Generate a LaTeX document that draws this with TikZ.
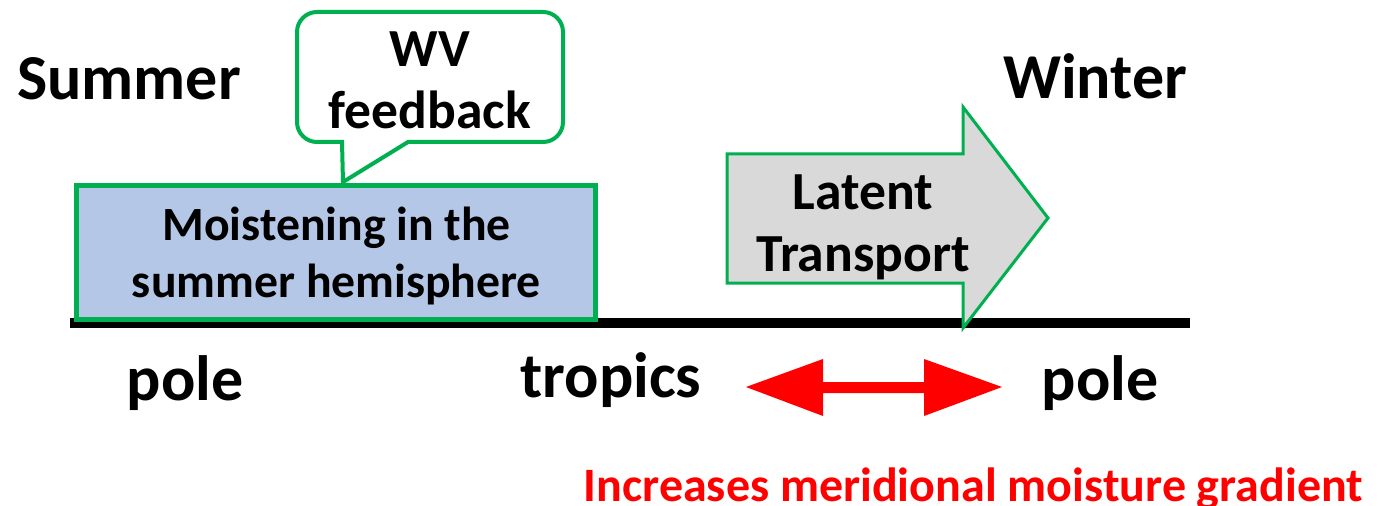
\documentclass[tikz,border=0pt]{standalone}
\usepackage{fontspec}
\setmainfont{Carlito}
\definecolor{pptgreen}{HTML}{00B050}
\definecolor{boxblue}{HTML}{B4C7E7}
\definecolor{arrowgray}{HTML}{D9D9D9}
\definecolor{pptred}{HTML}{FF0000}
\begin{document}
\begin{tikzpicture}[x=0.75pt,y=-0.75pt,
  biglbl/.style={font=\fontsize{48}{57}\selectfont\bfseries, inner sep=0pt, anchor=base},
  midtxt/.style={font=\fontsize{40.2}{46.5}\selectfont\bfseries, inner sep=0pt, align=center},
  boxtxt/.style={font=\fontsize{35.8}{42.75}\selectfont\bfseries, inner sep=0pt, align=center},
  moistbox/.style={draw=pptgreen, fill=boxblue, line width=3.75pt, inner sep=0pt,
    minimum width=388.9pt, minimum height=100.5pt},
  callout/.style={draw=pptgreen, fill=white, line width=3pt, line join=miter},
  bigarrow/.style={draw=pptgreen, fill=arrowgray, line width=2.25pt, line join=miter},
  redarrow/.style={fill=pptred},
  axis/.style={line width=7.9pt, black}]
\useasboundingbox (0,0) rectangle (1392,506);

% axis
\coordinate (axL) at (70,323);
\coordinate (axR) at (1190,323);
\draw[axis] (axL) -- (axR);

% moistening box
\node[moistbox] (moist) at (336.25,252.5) {};
\node[boxtxt] (moisttxt) at (336.5,256.5) {Moistening in the\\summer hemisphere};

% WV feedback callout
\draw[callout] (430,12) [rounded corners=15pt] -- (563,12) -- (563,142) -- (500,142)
  [sharp corners] -- (408,142) -- (343,182) -- (342,142) -- (320,142)
  [rounded corners=15pt] -- (297,142) -- (297,12) -- cycle;
\node[midtxt] (wv) at (430,80) {WV\\feedback};

% latent transport arrow
\draw[bigarrow] (727,154) -- (963,154) -- (963,107) -- (1048,218) -- (963,328)
  -- (963,283) -- (727,283) -- cycle;
\node[midtxt] (latent) at (863,227) {Latent\\Transport};

% red double arrow
\fill[redarrow] (746,387) -- (823,359) -- (823,382) -- (924,382) -- (924,359)
  -- (1002,387) -- (924,416) -- (924,393) -- (823,393) -- (823,416) -- cycle;

% labels
\node[biglbl] (summer) at (129,100) {Summer};
\node[biglbl] (winter) at (1095,99) {Winter};
\node[biglbl] (poleL) at (185,400) {pole};
\node[biglbl] (tropics) at (611,397) {tropics};
\node[biglbl] (poleR) at (1100,400) {pole};
\node[biglbl, text=pptred, font=\fontsize{36}{43}\selectfont\bfseries] (incr) at (973.5,501)
  {Increases meridional moisture gradient};
\end{tikzpicture}
\end{document}
